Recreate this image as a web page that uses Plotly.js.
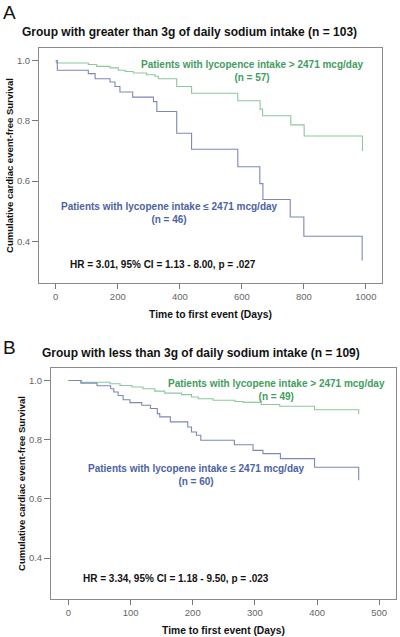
<!DOCTYPE html>
<html>
<head>
<meta charset="utf-8">
<script src="https://cdn.plot.ly/plotly-3.0.1.min.js"></script>
<style>
html,body{margin:0;padding:0;background:#fff;}
#chart{width:400px;height:637px;}
</style>
</head>
<body>
<div id="chart"></div>
<script>
// Panel A: > 3 g sodium (n = 103)
const aHighTime = [0, 2, 105, 132, 175, 202, 224, 250, 293, 320, 331, 390, 438, 587, 659, 667, 758, 801, 989];
const aHighSurv = [1.0, 0.992, 0.987, 0.981, 0.976, 0.968, 0.964, 0.959, 0.953, 0.948, 0.94, 0.914, 0.892, 0.867, 0.839, 0.817, 0.787, 0.75, 0.70];
const aLowTime = [0, 5, 105, 127, 175, 191, 207, 248, 315, 326, 390, 438, 587, 658, 668, 756, 800, 988];
const aLowSurv = [1.0, 0.968, 0.957, 0.94, 0.929, 0.914, 0.896, 0.879, 0.864, 0.831, 0.759, 0.706, 0.648, 0.592, 0.539, 0.481, 0.417, 0.337];
// Panel B: < 3 g sodium (n = 109)
const bHighTime = [0, 21, 67, 83, 102, 120, 139, 155, 182, 198, 209, 233, 268, 281, 310, 340, 396, 467];
const bHighSurv = [1.0, 0.994, 0.989, 0.983, 0.978, 0.972, 0.964, 0.957, 0.952, 0.944, 0.938, 0.933, 0.929, 0.926, 0.919, 0.913, 0.901, 0.886];
const bLowTime = [0, 20, 46, 68, 73, 80, 88, 99, 118, 132, 143, 147, 164, 192, 198, 206, 213, 267, 297, 313, 341, 396, 467];
const bLowSurv = [1.0, 0.991, 0.982, 0.972, 0.961, 0.949, 0.935, 0.925, 0.916, 0.905, 0.888, 0.877, 0.860, 0.843, 0.826, 0.815, 0.798, 0.783, 0.764, 0.753, 0.736, 0.707, 0.663];

const xTicksA = [0, 200, 400, 600, 800, 1000];
const xTicksB = [0, 100, 200, 300, 400, 500];
const yTicks = [0.4, 0.6, 0.8, 1.0];

const titleA = "Group with greater than 3g of daily sodium intake (n = 103)";
const titleB = "Group with less than 3g of daily sodium intake (n = 109)";
const yTitle = "Cumulative cardiac event-free Survival";
const xTitle = "Time to first event (Days)";
const labelAHigh = "Patients with lycopence intake > 2471 mcg/day<br>(n = 57)";
const labelALow = "Patients with lycopene intake ≤ 2471 mcg/day<br>(n = 46)";
const labelBHigh = "Patients with lycopene intake > 2471 mcg/day<br>(n = 49)";
const labelBLow = "Patients with lycopene intake ≤ 2471 mcg/day<br>(n = 60)";
const hrA = "HR = 3.01, 95% CI = 1.13 - 8.00, p = .027";
const hrB = "HR = 3.34, 95% CI = 1.18 - 9.50, p = .023";

const FONT = "Liberation Sans, Arial, sans-serif";
const GREEN_LINE = "#8cc89b";
const BLUE_LINE = "#7d88b8";
const GREEN_TXT = "#3f9d5e";
const BLUE_TXT = "#4c62a6";
const H = 637, W = 400;
const py = p => 1 - p / H;
const px = p => p / W;

function line(x, y, color, xa, ya, name) {
  return {x: x, y: y, type: "scatter", mode: "lines", line: {shape: "hv", color: color, width: 1.1},
          xaxis: xa, yaxis: ya, name: name, showlegend: false, hoverinfo: "x+y"};
}

const data = [
  line(aHighTime, aHighSurv, GREEN_LINE, "x", "y", "A high lycopene"),
  line(aLowTime, aLowSurv, BLUE_LINE, "x", "y", "A low lycopene"),
  line(bHighTime, bHighSurv, GREEN_LINE, "x2", "y2", "B high lycopene"),
  line(bLowTime, bLowSurv, BLUE_LINE, "x2", "y2", "B low lycopene")
];

function xax(domain, range, ticks, anchor) {
  return {domain: domain, range: range, tickvals: ticks, anchor: anchor,
    showline: true, mirror: true, linecolor: "#8a8a8a", linewidth: 1,
    ticks: "outside", ticklen: 5, tickcolor: "#777", showgrid: false, zeroline: false,
    tickfont: {family: FONT, size: 9.5, color: "#666"},
    title: {text: xTitle, font: {family: FONT, size: 10.3, color: "#111", weight: "bold"}, standoff: 9}};
}
function yax(domain, anchor) {
  return {domain: domain, range: [0.262, 1.042], tickvals: yTicks, tickformat: ".1f", anchor: anchor,
    showline: true, mirror: true, linecolor: "#8a8a8a", linewidth: 1,
    ticks: "outside", ticklen: 6, tickcolor: "#777", showgrid: false, zeroline: false,
    tickfont: {family: FONT, size: 9.5, color: "#666"},
    title: {text: yTitle, font: {family: FONT, size: 9.5, color: "#111", weight: "bold"}, standoff: 1}};
}

function ann(text, x, y, color, size, xanchor, bold) {
  return {text: text, x: x, y: y, xref: "paper", yref: "paper", xanchor: xanchor || "center", yanchor: "middle",
    showarrow: false, font: {family: FONT, size: size, color: color, weight: bold === false ? "normal" : "bold"}};
}

const layout = {
  width: W, height: H, margin: {l: 0, r: 0, t: 0, b: 0},
  paper_bgcolor: "#fff", plot_bgcolor: "#fff", showlegend: false,
  xaxis: xax([px(39), px(382)], [-54, 1052], xTicksA, "y"),
  yaxis: yax([py(283), py(48)], "x"),
  xaxis2: xax([px(51), px(396)], [-28, 527], xTicksB, "y2"),
  yaxis2: yax([py(599), py(368)], "x2"),
  annotations: [
    ann("A", px(9), py(12), "#111", 19, "center", false),
    ann(titleA, px(189), py(32), "#111", 12, "center"),
    ann(labelAHigh, px(252), py(71), GREEN_TXT, 10, "center"),
    ann(labelALow, px(169), py(213), BLUE_TXT, 10, "center"),
    ann(hrA, px(68), py(264), "#111", 10, "left"),
    ann("B", px(9.5), py(347), "#111", 19, "center", false),
    ann(titleB, px(201), py(353), "#111", 12, "center"),
    ann(labelBHigh, px(276), py(390), GREEN_TXT, 10, "center"),
    ann(labelBLow, px(196), py(475), BLUE_TXT, 10, "center"),
    ann(hrB, px(81), py(578), "#111", 10, "left")
  ]
};

Plotly.newPlot("chart", data, layout, {staticPlot: true, displayModeBar: false});
</script>
</body>
</html>
